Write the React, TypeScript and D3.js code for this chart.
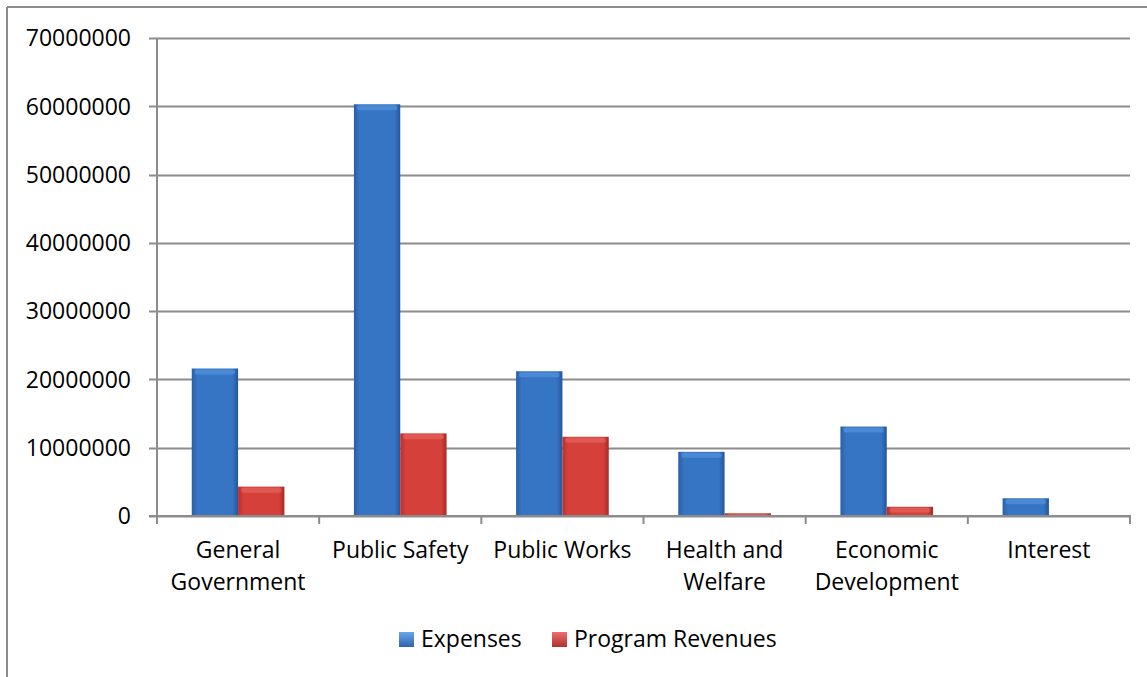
import React from "react";
import * as d3 from "d3";

const categories: string[][] = [
  ["General", "Government"],
  ["Public Safety"],
  ["Public Works"],
  ["Health and", "Welfare"],
  ["Economic", "Development"],
  ["Interest"],
];
const expenses: number[] = [21600000, 60300000, 21200000, 9400000, 13100000, 2600000];
const programRevenues: number[] = [4300000, 12100000, 11600000, 400000, 1350000, 0];
const yTicks: number[] = [0, 10000000, 20000000, 30000000, 40000000, 50000000, 60000000, 70000000];
const seriesNames: string[] = ["Expenses", "Program Revenues"];

const W = 1147;
const H = 677;
const left = 157;
const right = 1130;
const top = 38;
const bottom = 516;
const FONT = "'Open Sans', sans-serif";
const FS = 23;

export default function App() {
  const idx = categories.map((_, i) => String(i));
  const x = d3.scaleBand<string>().domain(idx).range([left, right]).paddingInner(0).paddingOuter(0);
  const y = d3.scaleLinear().domain([0, 70000000]).range([bottom, top]);
  const inner = d3
    .scaleBand<string>()
    .domain(["0", "1"])
    .range([0, x.bandwidth()])
    .paddingInner(0)
    .paddingOuter(0.75);
  const series = [expenses, programRevenues];
  const fills = ["url(#gBlue)", "url(#gRed)"];
  const bounds = d3.range(categories.length + 1).map((i) => left + i * x.step());

  return (
    <div style={{ position: "absolute", left: 0, top: 0 }}>
      <svg width={W} height={H} style={{ display: "block" }} fontFamily={FONT}>
        <defs>
          <linearGradient id="gBlue" x1="0" x2="1" y1="0" y2="0">
            <stop offset="0" stopColor="#2a5fa8" />
            <stop offset="0.12" stopColor="#3674c4" />
            <stop offset="0.88" stopColor="#3674c4" />
            <stop offset="1" stopColor="#24569a" />
          </linearGradient>
          <linearGradient id="gRed" x1="0" x2="1" y1="0" y2="0">
            <stop offset="0" stopColor="#b8302c" />
            <stop offset="0.12" stopColor="#d6403a" />
            <stop offset="0.88" stopColor="#d6403a" />
            <stop offset="1" stopColor="#a82a26" />
          </linearGradient>
          <linearGradient id="lBlue" x1="0" x2="0" y1="0" y2="1">
            <stop offset="0" stopColor="#6aa6ea" />
            <stop offset="1" stopColor="#2d63ad" />
          </linearGradient>
          <linearGradient id="lRed" x1="0" x2="0" y1="0" y2="1">
            <stop offset="0" stopColor="#ea7070" />
            <stop offset="1" stopColor="#b0302c" />
          </linearGradient>
        </defs>
        <rect x={0} y={0} width={W} height={H} fill="#fff" />
        <line x1={7} x2={W} y1={7} y2={7} stroke="#8c8c8c" strokeWidth={2} />
        <line x1={7} x2={7} y1={7} y2={H} stroke="#8c8c8c" strokeWidth={2} />

        {yTicks.map((t) => (
          <g key={t}>
            <line x1={149} x2={right} y1={Math.round(y(t)) + 0.5} y2={Math.round(y(t)) + 0.5} stroke="#8c8c8c" strokeWidth={2} />
            <text x={131} y={y(t)} dy="0.36em" textAnchor="end" fontSize={FS} fill="#000">
              {String(t)}
            </text>
          </g>
        ))}
        <line x1={left} x2={left} y1={top} y2={bottom} stroke="#8c8c8c" strokeWidth={2} />

        {series.map((vals, s) =>
          vals.map((v, i) => {
            const bx = (x(String(i)) as number) + (inner(String(s)) as number);
            const bw = inner.bandwidth();
            const by = y(v);
            const bh = bottom - by;
            if (bh <= 0) return null;
            const hl = Math.min(5, bh / 2);
            return (
              <g key={`${s}-${i}`}>
                <rect x={bx} y={by} width={bw} height={bh} fill={fills[s]} />
                <rect
                  x={bx + 3}
                  y={by + 1}
                  width={bw - 6}
                  height={hl}
                  rx={2}
                  fill={s === 0 ? "#5b97e0" : "#e86a64"}
                  opacity={0.6}
                />
              </g>
            );
          })
        )}

        <line x1={left - 8} x2={right + 1} y1={bottom} y2={bottom} stroke="#8c8c8c" strokeWidth={2} />
        {bounds.map((b, i) => (
          <line key={i} x1={b} x2={b} y1={bottom} y2={bottom + 8} stroke="#8c8c8c" strokeWidth={2} />
        ))}

        {categories.map((lines, i) => (
          <text key={i} textAnchor="middle" fontSize={FS} fill="#000">
            {lines.map((ln, j) => (
              <tspan key={j} x={(x(String(i)) as number) + x.bandwidth() / 2} y={558 + j * 32}>
                {ln}
              </tspan>
            ))}
          </text>
        ))}

        {seriesNames.map((n, s) => {
          const lx = s === 0 ? 399 : 552;
          return (
            <g key={n}>
              <rect x={lx} y={632} width={15} height={15} fill={s === 0 ? "url(#lBlue)" : "url(#lRed)"} />
              <text x={lx + 22} y={647} fontSize={FS} fill="#000">
                {n}
              </text>
            </g>
          );
        })}
      </svg>
    </div>
  );
}
